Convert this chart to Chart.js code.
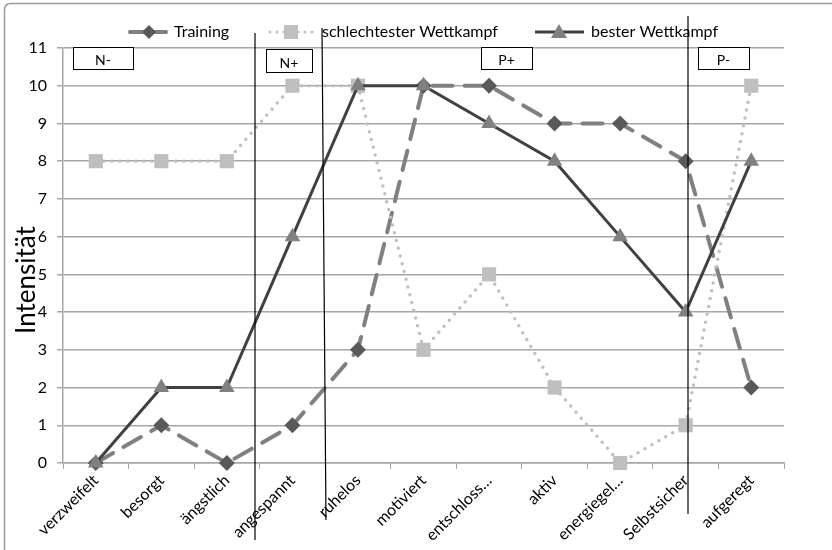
<!DOCTYPE html>
<html>
<head>
<meta charset="utf-8">
<script src="https://cdn.jsdelivr.net/npm/chart.js@4"></script>
<style>
  html, body { margin: 0; padding: 0; background: #fff; }
  #wrap { width: 832px; height: 550px; position: relative; }
</style>
</head>
<body>
<div id="wrap"><canvas id="chart" width="832" height="550"></canvas></div>
<script>
// categories and series
const categories = ["verzweifelt", "besorgt", "ängstlich", "angespannt", "ruhelos", "motiviert",
    "entschloss…", "aktiv", "energiegel…", "Selbstsicher", "aufgeregt"];
const training = [0, 1, 0, 1, 3, 10, 10, 9, 9, 8, 2];
const schlechtester = [8, 8, 8, 10, 10, 3, 5, 2, 0, 1, 10];
const bester = [0, 2, 2, 6, 10, 10, 9, 8, 6, 4, 8];
const yMin = 0, yMax = 11, yStep = 1;
const boxLabels = ["N-", "N+", "P+", "P-"];
const seriesNames = ["Training", "schlechtester Wettkampf", "bester Wettkampf"];

const FONT = "Lato, 'Open Sans', sans-serif";
const GRID = "#a6a6a6";

// overlay: frame, legend, axis title, phase boxes and divider lines
const overlay = {
    id: "overlay",
    beforeDraw(chart) {
        const c = chart.ctx;
        c.save();
        c.fillStyle = "#fff";
        c.fillRect(0, 0, chart.width, chart.height);
        c.restore();
    },
    afterDraw(chart) {
        const c = chart.ctx;
        c.save();

        // outer frame (left and top edges visible)
        c.strokeStyle = "#9a9a9a";
        c.lineWidth = 1.5;
        c.beginPath();
        c.moveTo(4.5, 560);
        c.lineTo(4.5, 10);
        c.quadraticCurveTo(4.5, 3.5, 11, 3.5);
        c.lineTo(840, 3.5);
        c.stroke();

        // y axis title
        c.fillStyle = "#000";
        c.font = "26px " + FONT;
        c.translate(27, 280);
        c.rotate(-Math.PI / 2);
        c.textAlign = "center";
        c.textBaseline = "middle";
        c.fillText("Intensität", 0, 0);
        c.setTransform(1, 0, 0, 1, 0, 0);

        // legend
        const ly = 32;
        c.font = "16px " + FONT;
        c.textAlign = "left";
        c.textBaseline = "middle";
        // Training
        c.strokeStyle = "#808080"; c.lineWidth = 4; c.lineCap = "round";
        c.setLineDash([14, 8]);
        c.beginPath(); c.moveTo(130, ly); c.lineTo(168, ly); c.stroke();
        c.setLineDash([]);
        c.fillStyle = "#595959";
        c.beginPath(); c.moveTo(149, ly - 7); c.lineTo(156, ly); c.lineTo(149, ly + 7); c.lineTo(142, ly); c.closePath(); c.fill();
        c.fillStyle = "#000";
        c.fillText(seriesNames[0], 174, ly);
        // schlechtester
        c.strokeStyle = "#bfbfbf"; c.lineWidth = 3;
        c.setLineDash([0, 7]);
        c.beginPath(); c.moveTo(270, ly); c.lineTo(314, ly); c.stroke();
        c.setLineDash([]);
        c.fillStyle = "#bfbfbf";
        c.fillRect(284, ly - 7, 14, 14);
        c.fillStyle = "#000";
        c.fillText(seriesNames[1], 322, ly);
        // bester
        c.strokeStyle = "#404040"; c.lineWidth = 3; c.lineCap = "butt";
        c.beginPath(); c.moveTo(535, ly); c.lineTo(584, ly); c.stroke();
        c.fillStyle = "#808080";
        c.beginPath(); c.moveTo(559, ly - 8); c.lineTo(567, ly + 6); c.lineTo(551, ly + 6); c.closePath(); c.fill();
        c.fillStyle = "#000";
        c.fillText(seriesNames[2], 591, ly);

        // divider lines
        c.strokeStyle = "#000"; c.lineWidth = 1.2;
        [[255, 33, 255, 540], [322, 28, 326, 520], [688, 16, 688, 514]].forEach(l => {
            c.beginPath(); c.moveTo(l[0], l[1]); c.lineTo(l[2], l[3]); c.stroke();
        });

        // phase boxes
        const boxes = [[73, 47, 60, 22], [266, 49, 46, 23], [481, 47, 51, 22], [698, 47, 51, 22]];
        c.font = "14px " + FONT;
        c.textAlign = "center";
        c.textBaseline = "alphabetic";
        boxes.forEach((b, i) => {
            c.fillStyle = "#fff";
            c.fillRect(b[0], b[1], b[2], b[3]);
            c.strokeStyle = "#000"; c.lineWidth = 1;
            c.strokeRect(b[0] + 0.5, b[1] + 0.5, b[2], b[3]);
            c.fillStyle = "#000";
            c.fillText(boxLabels[i], b[0] + b[2] / 2, b[1] + b[3] - 4);
        });
        c.restore();
    }
};

new Chart(document.getElementById("chart"), {
    type: "line",
    data: {
        labels: categories,
        datasets: [{
            label: seriesNames[0],
            data: training,
            order: 3,
            borderColor: "#808080",
            borderWidth: 4,
            borderDash: [20, 12],
            borderCapStyle: "round",
            pointStyle: "rectRot",
            pointRadius: 8,
            pointBackgroundColor: "#595959",
            pointBorderColor: "#595959",
            pointBorderWidth: 0,
            tension: 0,
            clip: false
        }, {
            label: seriesNames[1],
            data: schlechtester,
            order: 2,
            borderColor: "#bfbfbf",
            borderWidth: 3.5,
            borderDash: [0, 8],
            borderCapStyle: "round",
            pointStyle: "rect",
            pointRadius: 10,
            pointBackgroundColor: "#bfbfbf",
            pointBorderColor: "#bfbfbf",
            pointBorderWidth: 0,
            tension: 0,
            clip: false
        }, {
            label: seriesNames[2],
            data: bester,
            order: 1,
            borderColor: "#404040",
            borderWidth: 3,
            pointStyle: "triangle",
            pointRadius: 9,
            pointBackgroundColor: "#808080",
            pointBorderColor: "#808080",
            pointBorderWidth: 0,
            tension: 0,
            clip: false
        }]
    },
    options: {
        responsive: false,
        animation: false,
        events: [],
        layout: { padding: { top: 48, right: 48, bottom: 0, left: 0 } },
        plugins: { legend: { display: false }, tooltip: { enabled: false } },
        scales: {
            x: {
                offset: true,
                grid: { offset: true, drawOnChartArea: false, color: GRID, tickLength: 6 },
                border: { color: GRID, width: 1.5 },
                ticks: {
                    autoSkip: false, minRotation: 45, maxRotation: 45,
                    color: "#000", font: { family: FONT, size: 16 }, padding: 2
                },
                afterFit(s) { s.height = 87; }
            },
            y: {
                min: yMin, max: yMax,
                grid: { color: GRID, lineWidth: 1.5, tickLength: 6 },
                border: { color: GRID, width: 1.5 },
                ticks: {
                    stepSize: yStep, color: "#000",
                    font: { family: FONT, size: 16 }, padding: 10
                },
                afterFit(s) { s.width = 63; }
            }
        }
    },
    plugins: [overlay]
});
</script>
</body>
</html>
